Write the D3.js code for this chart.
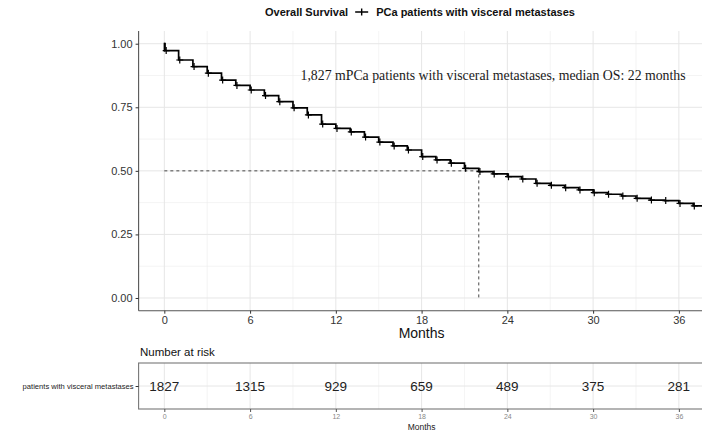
<!DOCTYPE html>
<html>
<head>
<meta charset="utf-8">
<script src="https://cdn.jsdelivr.net/npm/d3@7"></script>
<style>
  html, body { margin: 0; padding: 0; background: #fff; }
  svg { display: block; font-family: "Liberation Sans", Arial, sans-serif; }
</style>
</head>
<body>
<script>
// Kaplan-Meier estimate: overall survival, mPCa patients with visceral metastases
const months = [0, 0.05, 1, 2, 3, 4, 5, 6, 7, 8, 9, 10, 11, 12, 13, 14, 15, 16, 17, 18,
  19, 20, 21, 22, 23, 24, 25, 26, 27, 28, 29, 30, 31, 32, 33, 34, 35, 36, 37];
const survival = [1.0, 0.973, 0.936, 0.910, 0.884, 0.857, 0.836, 0.818, 0.796, 0.772,
  0.748, 0.720, 0.684, 0.667, 0.653, 0.633, 0.613, 0.598, 0.582, 0.556, 0.543, 0.530,
  0.510, 0.497, 0.488, 0.477, 0.468, 0.451, 0.443, 0.434, 0.425, 0.414, 0.408, 0.401,
  0.392, 0.385, 0.383, 0.372, 0.362];
const medianOS = 22;

const xTicks = [0, 6, 12, 18, 24, 30, 36];
const yTicks = [0, 0.25, 0.5, 0.75, 1.0];
const riskTimes = [0, 6, 12, 18, 24, 30, 36];
const riskCounts = [1827, 1315, 929, 659, 489, 375, 281];

const legendTitle = "Overall Survival";
const seriesName = "PCa patients with visceral metastases";
const annotation = "1,827 mPCa patients with visceral metastases, median OS: 22 months";
const riskRowLabel = "patients with visceral metastases";

const W = 702, H = 432;
const sans = "Liberation Sans, Arial, sans-serif";
const serif = "'Liberation Serif', 'DejaVu Serif', serif";
const svg = d3.select("body").append("svg").attr("width", W).attr("height", H);

// shared x scale for plot and risk table
const x = d3.scaleLinear().domain([-1.8, 37.8]).range([138.6, 704.6]);
const y = d3.scaleLinear().domain([-0.05, 1.05]).range([310.7, 31]);

const panel = { left: x.range()[0], right: W, top: y.range()[1], bottom: y.range()[0] };

svg.append("clipPath").attr("id", "clipMain")
  .append("rect").attr("x", panel.left).attr("y", panel.top)
  .attr("width", panel.right - panel.left).attr("height", panel.bottom - panel.top);

// ---- grid ----
const grid = svg.append("g");
const minorX = d3.range(3, 38, 6);
const minorY = [0.125, 0.375, 0.625, 0.875];
grid.selectAll(".mx").data(minorX).join("line")
  .attr("x1", d => x(d)).attr("x2", d => x(d)).attr("y1", panel.top).attr("y2", panel.bottom)
  .attr("stroke", "#ededed").attr("stroke-width", 0.6);
grid.selectAll(".my").data(minorY).join("line")
  .attr("x1", panel.left).attr("x2", panel.right).attr("y1", d => y(d)).attr("y2", d => y(d))
  .attr("stroke", "#ededed").attr("stroke-width", 0.6);
grid.selectAll(".gx").data(xTicks).join("line")
  .attr("x1", d => x(d)).attr("x2", d => x(d)).attr("y1", panel.top).attr("y2", panel.bottom)
  .attr("stroke", "#e6e6e6").attr("stroke-width", 1);
grid.selectAll(".gy").data(yTicks).join("line")
  .attr("x1", panel.left).attr("x2", panel.right).attr("y1", d => y(d)).attr("y2", d => y(d))
  .attr("stroke", "#e6e6e6").attr("stroke-width", 1);

// ---- axes ----
const xAxis = svg.append("g").attr("transform", `translate(0,${panel.bottom})`)
  .call(d3.axisBottom(x).tickValues(xTicks).tickSize(3).tickPadding(3).tickSizeOuter(0));
xAxis.select(".domain").attr("stroke", "#555").attr("stroke-width", 1.1)
  .attr("d", `M${panel.left},0H${panel.right}`);
xAxis.selectAll(".tick line").attr("stroke", "#333");
xAxis.selectAll(".tick text").attr("font-size", 11).attr("fill", "#333").attr("font-family", sans);

const yAxis = svg.append("g").attr("transform", `translate(${panel.left},0)`)
  .call(d3.axisLeft(y).tickValues(yTicks).tickFormat(d3.format(".2f")).tickSize(3).tickPadding(3).tickSizeOuter(0));
yAxis.select(".domain").attr("stroke", "#555").attr("stroke-width", 1.1)
  .attr("d", `M0,${panel.top}V${panel.bottom}`);
yAxis.selectAll(".tick line").attr("stroke", "#333");
yAxis.selectAll(".tick text").attr("font-size", 11).attr("fill", "#333").attr("font-family", sans);

svg.append("text").attr("x", x(18)).attr("y", 338).attr("text-anchor", "middle")
  .attr("font-size", 14).attr("fill", "#111").attr("font-family", sans).text("Months");

// ---- median lines ----
svg.append("path")
  .attr("d", `M${x(0)},${y(0.5)}H${x(medianOS)}V${y(0)}`)
  .attr("fill", "none").attr("stroke", "#333").attr("stroke-width", 0.9)
  .attr("stroke-dasharray", "3,3");

// ---- survival curve ----
const pts = months.map((m, i) => [m, survival[i]]);
pts.push([x.domain()[1], survival[survival.length - 1]]);
const line = d3.line().x(d => x(d[0])).y(d => y(d[1])).curve(d3.curveStepAfter);
const curveG = svg.append("g").attr("clip-path", "url(#clipMain)");
curveG.append("path").datum(pts).attr("d", line)
  .attr("fill", "none").attr("stroke", "#000").attr("stroke-width", 1.7);

// censoring marks
const marks = months.slice(1).map((m, i) => [m + 0.08, survival[i + 1]]);
curveG.selectAll(".cm").data(marks).join("path")
  .attr("d", d => `M${x(d[0]) - 3.5},${y(d[1])}h7M${x(d[0])},${y(d[1]) - 3.5}v7`)
  .attr("stroke", "#000").attr("stroke-width", 1.2);
// mark at time 0
curveG.append("path")
  .attr("d", `M${x(0)},${y(1.0) - 1}v${y(survival[1]) - y(1.0) + 2}`)
  .attr("stroke", "#000").attr("stroke-width", 1.4);

// ---- annotation ----
svg.append("text").attr("x", 300.5).attr("y", 79.5)
  .style("font-family", serif).attr("font-size", 13.8)
  .attr("fill", "#1a1a1a").text(annotation);

// ---- legend on top ----
const lg = svg.append("g");
const t1 = lg.append("text").attr("x", 265).attr("y", 16).attr("font-size", 11)
  .attr("font-weight", "bold").attr("fill", "#111").attr("font-family", sans).text(legendTitle);
const kx = 265 + t1.node().getComputedTextLength() + 7;
lg.append("path").attr("d", `M${kx},12h13M${kx + 6.5},8.5v7`)
  .attr("stroke", "#000").attr("stroke-width", 1.4);
lg.append("text").attr("x", kx + 21).attr("y", 16).attr("font-size", 11)
  .attr("font-weight", "bold").attr("fill", "#111").attr("font-family", sans).text(seriesName);

// ---- number at risk table ----
const tb = { top: 363, bottom: 409 };
const yr = d3.scalePoint().domain([riskRowLabel]).range([tb.top, tb.bottom]).padding(0.5);

svg.append("text").attr("x", 140).attr("y", 356).attr("font-size", 11.5)
  .attr("fill", "#111").attr("font-family", sans).text("Number at risk");

svg.append("clipPath").attr("id", "clipRisk")
  .append("rect").attr("x", panel.left).attr("y", tb.top)
  .attr("width", W - panel.left).attr("height", tb.bottom - tb.top);

const rg = svg.append("g").attr("clip-path", "url(#clipRisk)");
rg.selectAll(".rmx").data(minorX).join("line")
  .attr("x1", d => x(d)).attr("x2", d => x(d)).attr("y1", tb.top).attr("y2", tb.bottom)
  .attr("stroke", "#ededed").attr("stroke-width", 0.6);
rg.selectAll(".rgx").data(xTicks).join("line")
  .attr("x1", d => x(d)).attr("x2", d => x(d)).attr("y1", tb.top).attr("y2", tb.bottom)
  .attr("stroke", "#e6e6e6").attr("stroke-width", 1);
rg.append("line").attr("x1", panel.left).attr("x2", W)
  .attr("y1", yr(riskRowLabel)).attr("y2", yr(riskRowLabel))
  .attr("stroke", "#e6e6e6").attr("stroke-width", 1);

svg.append("rect").attr("x", panel.left).attr("y", tb.top)
  .attr("width", x.range()[1] - panel.left).attr("height", tb.bottom - tb.top)
  .attr("fill", "none").attr("stroke", "#777").attr("stroke-width", 1.1);

svg.selectAll(".rc").data(riskTimes).join("text")
  .attr("x", d => x(d)).attr("y", yr(riskRowLabel) + 5)
  .attr("text-anchor", "middle").attr("font-size", 13.5).attr("fill", "#222")
  .attr("font-family", sans)
  .text((d, i) => riskCounts[i]);

const ry = svg.append("g").attr("transform", `translate(${panel.left},0)`)
  .call(d3.axisLeft(yr).tickSize(3).tickPadding(2));
ry.select(".domain").remove();
ry.selectAll(".tick line").attr("stroke", "#333");
ry.selectAll(".tick text").attr("font-size", 7.6).attr("fill", "#222").attr("font-family", sans);

const rx = svg.append("g").attr("transform", `translate(0,${tb.bottom})`)
  .call(d3.axisBottom(x).tickValues(xTicks).tickSize(3).tickPadding(2));
rx.select(".domain").remove();
rx.selectAll(".tick line").attr("stroke", "#555");
rx.selectAll(".tick text").attr("font-size", 7).attr("fill", "#888").attr("font-family", sans);

svg.append("text").attr("x", x(18)).attr("y", 430).attr("text-anchor", "middle")
  .attr("font-size", 8.5).attr("fill", "#222").attr("font-family", sans).text("Months");
</script>
</body>
</html>
